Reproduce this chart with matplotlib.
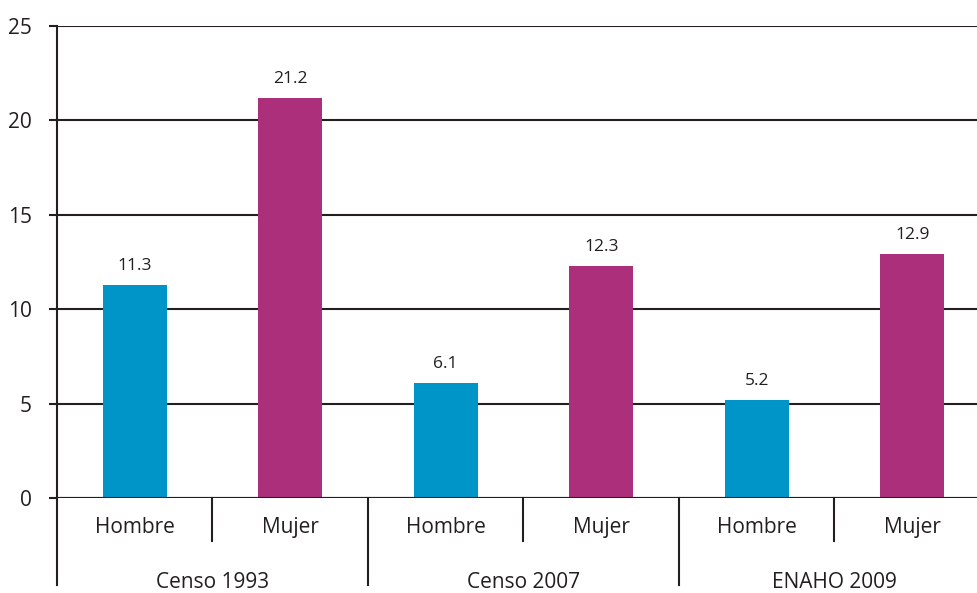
import numpy as np
import matplotlib.pyplot as plt

# datos
grupos = ["Censo 1993", "Censo 2007", "ENAHO 2009"]
sexos = ["Hombre", "Mujer"]
hombre = [11.3, 6.1, 5.2]
mujer = [21.2, 12.3, 12.9]

c_hombre = "#0095C8"
c_mujer = "#AB2F7A"
c_linea = "#231F20"

plt.rcParams['font.family'] = ['Open Sans', 'DejaVu Sans']

fig = plt.figure(figsize=(9.77, 5.93), dpi=100)
ax = fig.add_axes([57/977, 95/593, 1 - 57/977, 472/593])

valores = []
colores = []
for h, m in zip(hombre, mujer):
    valores += [h, m]
    colores += [c_hombre, c_mujer]
x = np.arange(len(valores))

ax.bar(x, valores, width=0.41, color=colores, zorder=3)
for xi, v in zip(x, valores):
    ax.annotate(f"{v:.1f}", (xi, v), xytext=(0, 8), textcoords="offset points",
                ha="center", va="bottom", fontsize=12.5, color=c_linea)

ax.set_xlim(-0.5, 5.5 - 13/155.6)
ax.set_ylim(0, 25)
ax.set_yticks([0, 5, 10, 15, 20, 25])
ax.yaxis.grid(True, color=c_linea, linewidth=1.5, zorder=0)
ax.tick_params(axis='y', length=6, width=1.5, color=c_linea, pad=12,
               labelsize=15, labelcolor=c_linea)
ax.set_xticks([])
for s in ["top", "right", "bottom"]:
    ax.spines[s].set_visible(False)
ax.spines["left"].set_color(c_linea)
ax.spines["left"].set_linewidth(1.5)
ax.axhline(0, color=c_linea, linewidth=1.5, zorder=4)

# etiquetas de dos niveles
tr = ax.get_xaxis_transform()
for xi in x:
    ax.text(xi, -0.062, sexos[xi % 2], transform=tr, ha="center", va="center",
            fontsize=15, color=c_linea)
for i in range(len(grupos)):
    ax.text(2*i + 0.5, -0.18, grupos[i], transform=tr, ha="center", va="center",
            fontsize=15, color=c_linea)
    ax.plot([2*i + 0.5, 2*i + 0.5], [0, -0.091], transform=tr, color=c_linea,
            linewidth=1.5, clip_on=False)
    ax.plot([2*i - 0.5, 2*i - 0.5], [0, -0.184], transform=tr, color=c_linea,
            linewidth=1.5, clip_on=False)

fig.savefig("out.png", dpi=100)
